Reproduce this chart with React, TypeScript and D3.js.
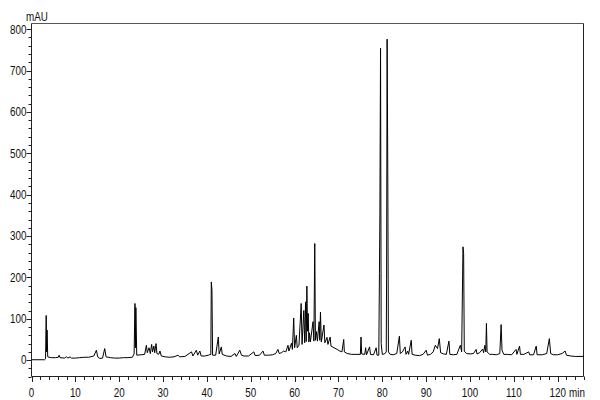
import React from "react";
import * as d3 from "d3";

// Chromatogram trace: retention time (min) and absorbance (mAU)
const traceTimes: number[] = [
  0, 3.0, 3.2, 3.35, 3.45, 3.55, 3.7, 4.5, 5.5, 6.1, 6.3, 6.5, 7.5, 8.0, 8.3, 8.8, 9.1, 10.0, 11, 12, 13,
  14.2, 14.8, 15.1, 15.6, 16.2, 16.7, 17.0, 18, 19, 20, 21, 22, 23.0, 23.4, 23.6, 23.7, 23.8, 24.0, 25,
  25.8, 26.2, 26.4, 26.8, 27.1, 27.4, 27.6, 27.9, 28.1, 28.4, 28.6, 29.0, 29.3, 29.6, 30.5, 31.5, 32.5,
  33.4, 33.8, 35, 36.5, 36.8, 37.6, 37.9, 38.4, 38.7, 39.5, 40.3, 40.9, 41.0, 41.15, 41.3, 42.0, 42.6,
  42.8, 43.3, 43.5, 44.5, 45.5, 46.4, 46.7, 47.5, 47.9, 48.5, 49.5, 50.7, 51.0, 52.0, 52.8, 53.1, 54.0,
  55.0, 55.7, 56.2, 56.5, 57.0, 57.5, 58.0, 58.5, 58.7, 59.3, 59.5, 59.8, 60.0, 60.4, 60.6, 61.0, 61.5,
  61.7, 62.1, 62.3, 62.5, 62.65, 62.8, 62.95, 63.1, 63.25, 63.4, 63.6, 64.2, 64.4, 64.6, 64.75, 65.0,
  65.2, 65.6, 65.75, 65.9, 66.1, 66.7, 66.9, 67.4, 67.6, 68.1, 68.3, 69, 69.7, 70.3, 70.8, 71.2, 71.35,
  72, 73, 74, 75.0, 75.15, 75.3, 76.0, 76.2, 76.4, 77.1, 77.3, 78.0, 78.6, 78.8, 79.2, 79.35, 79.45,
  79.6, 79.75, 80.0, 80.5, 80.9, 80.98, 81.1, 81.25, 81.4, 81.8, 82.5, 83.3, 83.9, 84.1, 84.6, 85.0,
  85.2, 85.4, 85.8, 86.0, 86.6, 86.8, 87.5, 88.5, 89.3, 90.0, 90.3, 91.0, 91.6, 92.1, 92.6, 93.0, 93.3,
  94.0, 94.6, 95.2, 95.4, 96.2, 97.0, 97.8, 98.1, 98.4, 98.55, 98.7, 99.2, 100, 100.8, 101.4, 101.6,
  102.2, 102.9, 103.1, 103.4, 103.6, 103.75, 103.9, 104.5, 105.2, 106.0, 106.8, 107.1, 107.3, 107.7,
  108.5, 109.5, 110.5, 110.7, 111.3, 111.5, 112.3, 113.4, 113.6, 114.5, 115.1, 115.3, 116.5, 117.5,
  118.1, 118.4, 119.0, 120, 121.0, 121.7, 122.0, 123.0, 124, 126,
];
const traceValues: number[] = [
  1, 1, 3, 108, 20, 73, 8, 6, 6, 7, 12, 6, 5, 8, 5, 8, 5, 5, 6, 7, 7,
  10, 24, 8, 4, 5, 28, 8, 6, 5, 5, 6, 6, 7, 15, 137, 30, 127, 12, 13,
  14, 36, 18, 30, 16, 38, 20, 34, 18, 40, 16, 14, 22, 10, 8, 7, 8,
  12, 8, 9, 20, 10, 24, 12, 22, 10, 10, 12, 14, 189, 170, 12, 12, 56,
  15, 32, 14, 10, 9, 16, 9, 24, 12, 10, 10, 20, 11, 12, 22, 12, 12,
  13, 16, 26, 16, 18, 22, 20, 36, 22, 41, 26, 102, 30, 60, 30, 36, 137,
  38, 120, 42, 141, 45, 179, 70, 113, 44, 66, 44, 93, 46, 282, 48, 69,
  46, 93, 48, 116, 44, 85, 42, 55, 38, 56, 34, 30, 26, 22, 20, 50, 20,
  16, 14, 14, 14, 56, 15, 14, 30, 13, 32, 14, 13, 30, 12, 12, 210, 351,
  754, 40, 14, 15, 20, 194, 776, 460, 20, 14, 13, 16, 58, 16, 20, 28,
  32, 14, 22, 14, 48, 14, 12, 11, 14, 24, 12, 14, 20, 36, 28, 52, 18,
  15, 14, 46, 14, 13, 14, 36, 20, 274, 258, 22, 16, 15, 16, 26, 15,
  18, 27, 18, 36, 20, 89, 20, 14, 14, 13, 16, 86, 24, 14,
  14, 13, 26, 14, 34, 14, 14, 20, 13, 13, 34, 13, 13, 16,
  52, 16, 13, 13, 16, 22, 12, 10, 9, 9,
];

const xMajorTicks: number[] = [0, 10, 20, 30, 40, 50, 60, 70, 80, 90, 100, 110, 120];
const yMajorTicks: number[] = [0, 100, 200, 300, 400, 500, 600, 700, 800];
const xUnit = "min";
const yUnit = "mAU";

const W = 600;
const H = 400;
const LEFT = 31.5;
const RIGHT = 583.5;
const TOP = 23.5;
const BOTTOM = 376.5;
const FONT = "'Liberation Sans', Arial, sans-serif";
const FS = 12;
const SX = 0.82;

function NarrowText(props: { x: number; y: number; anchor: "start" | "middle" | "end"; children: React.ReactNode; dy?: string }) {
  return (
    <text
      transform={`translate(${props.x},${props.y}) scale(${SX},1)`}
      textAnchor={props.anchor}
      dy={props.dy}
      fontSize={FS}
      fill="#111"
    >
      {props.children}
    </text>
  );
}

export default function App() {
  const x = d3.scaleLinear().domain([0, 126]).range([LEFT, 584]);
  const y = d3.scaleLinear().domain([-40, 815]).range([376.7, 23]);

  const data = traceTimes.map((t, i) => [t, traceValues[i]] as [number, number]);
  const line = d3
    .line<[number, number]>()
    .x((d) => x(d[0]))
    .y((d) => y(d[1]));

  const xMinor = d3.range(0, 127, 2).filter((v) => v % 10 !== 0);
  const yMinor = d3.range(-40, 801, 20).filter((v) => v % 100 !== 0);

  return (
    <svg
      width={W}
      height={H}
      style={{ position: "fixed", left: 0, top: 0, background: "#fff" }}
      fontFamily={FONT}
    >
      <rect x={0} y={0} width={W} height={H} fill="#fff" />
      {/* frame */}
      <line x1={LEFT} x2={RIGHT} y1={TOP} y2={TOP} stroke="#555" strokeWidth={1} />
      <line x1={RIGHT} x2={RIGHT} y1={TOP} y2={BOTTOM} stroke="#222" strokeWidth={1} />
      <line x1={LEFT} x2={RIGHT} y1={BOTTOM} y2={BOTTOM} stroke="#222" strokeWidth={1} />
      <line x1={LEFT} x2={LEFT} y1={TOP} y2={BOTTOM} stroke="#222" strokeWidth={1} />

      {/* y ticks */}
      {yMinor.map((v) => (
        <line key={"ym" + v} x1={LEFT - 3} x2={LEFT} y1={Math.round(y(v)) + 0.5} y2={Math.round(y(v)) + 0.5} stroke="#222" />
      ))}
      {yMajorTicks.map((v) => (
        <g key={"yM" + v}>
          <line x1={LEFT - 5} x2={LEFT} y1={Math.round(y(v)) + 0.5} y2={Math.round(y(v)) + 0.5} stroke="#222" />
          <NarrowText x={LEFT - 5} y={y(v)} anchor="end" dy="0.36em">
            {v}
          </NarrowText>
        </g>
      ))}
      <NarrowText x={26} y={21} anchor="start">
        {yUnit}
      </NarrowText>

      {/* x ticks */}
      {xMinor.map((v) => (
        <line key={"xm" + v} x1={Math.round(x(v)) + 0.5} x2={Math.round(x(v)) + 0.5} y1={BOTTOM} y2={BOTTOM + 3.5} stroke="#222" />
      ))}
      {xMajorTicks.map((v) => (
        <g key={"xM" + v}>
          <line x1={Math.round(x(v)) + 0.5} x2={Math.round(x(v)) + 0.5} y1={BOTTOM} y2={BOTTOM + 5.5} stroke="#222" />
          <NarrowText x={x(v)} y={397} anchor="middle">
            {v}
          </NarrowText>
        </g>
      ))}
      <NarrowText x={569} y={397} anchor="start">
        {xUnit}
      </NarrowText>

      {/* trace */}
      <path d={line(data) || ""} fill="none" stroke="#000" strokeWidth={1} strokeLinejoin="miter" />
    </svg>
  );
}
